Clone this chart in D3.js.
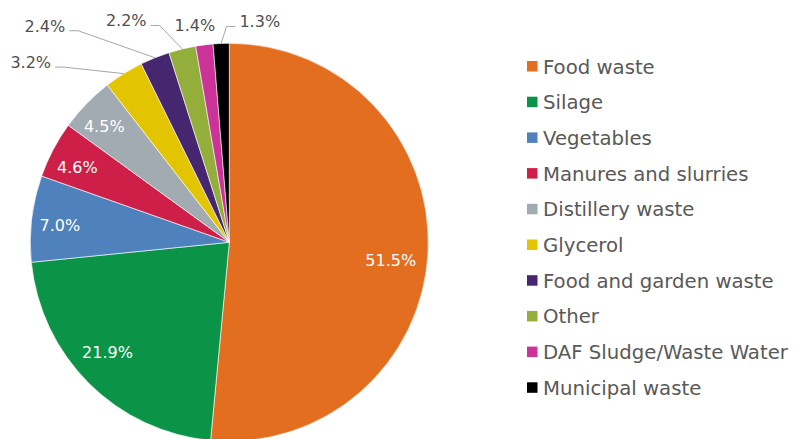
<!DOCTYPE html>
<html>
<head>
<meta charset="utf-8">
<script src="https://cdn.jsdelivr.net/npm/d3@7"></script>
<style>
  body { margin: 0; background: #fff; }
  svg { display: block; font-family: Verdana, "DejaVu Sans", sans-serif; }
</style>
</head>
<body>
<svg id="chart" width="795" height="439"></svg>
<script>
// Feedstock categories and their share (%)
const categories = ["Food waste", "Silage", "Vegetables", "Manures and slurries", "Distillery waste",
  "Glycerol", "Food and garden waste", "Other", "DAF Sludge/Waste Water", "Municipal waste"];
const shares = [51.5, 21.9, 7.0, 4.6, 4.5, 3.2, 2.4, 2.2, 1.4, 1.3];
const colors = ["#e46e1f", "#0b9447", "#4f81bd", "#cd1f48", "#a2abb1",
  "#e2c500", "#472670", "#93ae3b", "#cc3399", "#000000"];

// label layout: inside labels sit near the rim, small ones go outside with a leader line
const outside = [false, false, false, false, false, true, true, true, true, true];
// nudges (px) as Excel places them by hand
const labelNudge = [[-5.5, 10], [-4, -8], [-3.5, 3], [-4, 3], [-5, 1],
  [-93, -11], [-110, -31.5], [-56, -28], [-9.5, -19], [38.6, -21.5]];

const data = categories.map((c, i) => ({ name: c, value: shares[i], color: colors[i], i: i }));

const svg = d3.select("#chart");
const cx = 229.3, cy = 242.3, r = 199;

const pie = d3.pie().sort(null).value(d => d.value);
const arc = d3.arc().innerRadius(0).outerRadius(r);
const labelArc = d3.arc().innerRadius(r * 0.84).outerRadius(r * 0.84);
const edgeArc = d3.arc().innerRadius(r).outerRadius(r);

const g = svg.append("g").attr("transform", `translate(${cx},${cy})`);
const arcs = pie(data);

g.selectAll("path.slice")
  .data(arcs)
  .enter().append("path")
  .attr("class", "slice")
  .attr("d", arc)
  .attr("fill", d => d.data.color)
  .attr("stroke", "#fff")
  .attr("stroke-width", 0.6);

// labels
const fmt = d3.format(".1f");
arcs.forEach(a => {
  const i = a.data.i;
  const nudge = labelNudge[i];
  if (!outside[i]) {
    const c = labelArc.centroid(a);
    g.append("text")
      .attr("x", c[0] + nudge[0])
      .attr("y", c[1] + nudge[1])
      .attr("text-anchor", "middle")
      .attr("dominant-baseline", "central")
      .attr("fill", "#fff")
      .style("font-size", "16px")
      .text(fmt(a.data.value) + "%");
  } else {
    const e = edgeArc.centroid(a);
    const lx = e[0] + nudge[0], ly = e[1] + nudge[1];
    const t = g.append("text")
      .attr("x", lx)
      .attr("y", ly)
      .attr("text-anchor", "middle")
      .attr("dominant-baseline", "central")
      .attr("fill", "#505050")
      .style("font-size", "16px")
      .text(fmt(a.data.value) + "%");
    const w = t.node().getComputedTextLength();
    // leader line only when the label is far enough from its slice
    if (Math.hypot(nudge[0], nudge[1]) > 30) {
      const side = nudge[0] < 0 ? 1 : -1;
      const x0 = lx + side * (w / 2 + 4);
      const x1 = x0 + side * 9;
      const yl = ly + 4.5;
      g.insert("path", "text")
        .attr("d", d3.line()([[x0, yl], [x1, yl], [e[0], e[1]]]))
        .attr("fill", "none")
        .attr("stroke", "#a6a6a6")
        .attr("stroke-width", 1);
    }
  }
});

// legend
const legend = svg.append("g").attr("transform", "translate(527,66.3)");
const ly = d3.scaleBand().domain(categories).range([0, 35.7 * categories.length]).paddingInner(0);
const item = legend.selectAll("g")
  .data(data)
  .enter().append("g")
  .attr("transform", d => `translate(0,${ly(d.name)})`);
item.append("rect")
  .attr("x", 0).attr("y", -5.3)
  .attr("width", 10.5).attr("height", 10.5)
  .attr("fill", d => d.color);
item.append("text")
  .attr("x", 16)
  .attr("y", 7.2)
  .attr("fill", "#595959")
  .style("font-size", "19.7px")
  .text(d => d.name);
</script>
</body>
</html>
